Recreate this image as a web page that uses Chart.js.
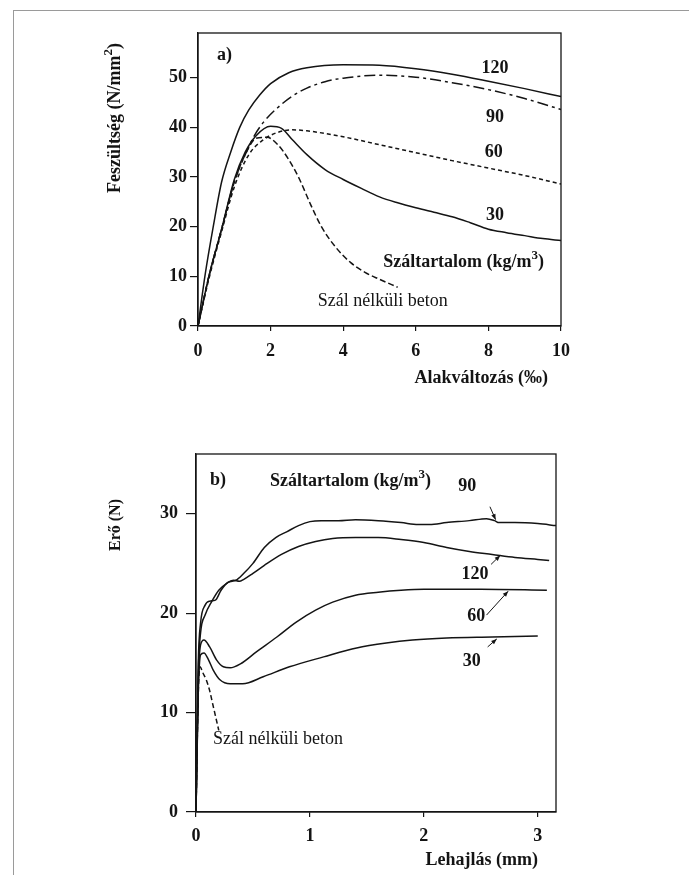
<!DOCTYPE html>
<html><head><meta charset="utf-8">
<script src="https://cdn.jsdelivr.net/npm/chart.js@4.4.0/dist/chart.umd.min.js"></script>
<style>
html,body{margin:0;padding:0;background:#fff;width:689px;height:875px;overflow:hidden}
#frame{position:absolute;left:13px;top:10px;right:0;bottom:0;border-top:1px solid #9a9a9a;border-left:1px solid #9a9a9a}
canvas{position:absolute;left:0;top:0}
</style></head><body>
<div id="frame"></div>
<canvas id="ca" width="689" height="875"></canvas>
<canvas id="cb" width="689" height="875"></canvas>
<script>
// ---------- Chart a) data: Alakváltozás (‰) vs Feszültség (N/mm2) ----------
const aXTicks = [0, 2, 4, 6, 8, 10];
const aYTicks = [0, 10, 20, 30, 40, 50];
const a120X = [0,0.2,0.42,0.65,0.9,1.15,1.4,1.7,2,2.5,3,4,5,6,7,8,9,10];
const a120Y = [0,10.5,20,29,35,40,43.5,46.5,48.8,51,52,52.6,52.5,51.8,50.7,49.3,47.8,46.2];
const a90X = [0,0.3,0.65,1,1.3,1.55,1.8,2.2,2.6,3,3.5,4,5,6,7,8,9,10];
const a90Y = [0,10,19.5,29,34.5,38.3,41,44,46.3,47.9,49.2,49.9,50.5,50.1,49,47.6,45.8,43.6];
const a60X = [0,0.3,0.65,1,1.4,1.8,2.2,2.6,3,4,5,6,7,8,9,10];
const a60Y = [0,9.5,19,28,34.5,37.5,39,39.5,39.3,38.1,36.5,34.9,33.3,31.8,30.3,28.6];
const a30X = [0,0.3,0.65,1,1.3,1.6,2,2.3,2.6,3,3.5,4,4.5,5,5.5,6,6.5,7,7.5,8,8.5,9,9.5,10];
const a30Y = [0,10,19.5,29.5,35,38.3,40.2,39.8,37.5,34.5,31.5,29.5,27.7,26,24.8,23.8,22.9,22,20.8,19.5,18.8,18.2,17.6,17.2];
const a0X = [0,0.3,0.65,1,1.3,1.6,1.9,2.2,2.5,2.8,3.1,3.4,3.8,4.2,4.6,5,5.5];
const a0Y = [0,10,19.5,29,34.5,37.8,38,36.5,33.5,29.5,24.5,20,15.8,12.8,10.8,9.4,7.8];

// ---------- Chart b) data: Lehajlás (mm) vs Erő (N) ----------
const bXTicks = [0, 1, 2, 3];
const bYTicks = [0, 10, 20, 30];
const b90X = [0,0.02,0.04,0.08,0.12,0.17,0.22,0.28,0.35,0.42,0.5,0.6,0.7,0.8,0.9,1.0,1.1,1.25,1.4,1.6,1.8,1.95,2.05,2.2,2.4,2.55,2.62,2.66,2.8,3.0,3.16];
const b90Y = [0,15,19,20.8,21.2,21.3,22.3,23.1,23.3,24,25,26.6,27.6,28.2,28.8,29.2,29.3,29.3,29.4,29.3,29.1,28.9,28.9,29.1,29.3,29.5,29.3,29.1,29.1,29.0,28.8];
const b120X = [0,0.02,0.04,0.08,0.14,0.2,0.27,0.33,0.38,0.42,0.5,0.6,0.75,0.9,1.05,1.2,1.4,1.6,1.8,2.0,2.2,2.4,2.6,2.8,3.0,3.1];
const b120Y = [0,14,18,19.8,21.2,22.3,23,23.3,23.2,23.4,24,24.8,25.9,26.7,27.2,27.5,27.6,27.6,27.4,27.1,26.6,26.2,25.9,25.6,25.4,25.3];
const b60X = [0,0.02,0.04,0.07,0.12,0.18,0.24,0.3,0.39,0.53,0.71,0.88,1.05,1.2,1.4,1.6,1.8,2.0,2.5,3.08];
const b60Y = [0,13,16.8,17.3,16.6,15.3,14.6,14.5,14.9,16.1,17.6,19.1,20.3,21.1,21.8,22.1,22.3,22.4,22.4,22.3];
const b30X = [0,0.02,0.04,0.07,0.11,0.15,0.21,0.3,0.41,0.59,0.82,1.12,1.41,1.67,1.9,2.2,2.6,3.0];
const b30Y = [0,12,15.8,16,15.3,14.3,13.3,12.9,12.9,13.6,14.6,15.6,16.5,17,17.3,17.5,17.6,17.7];
const b0X = [0,0.02,0.035,0.06,0.09,0.12,0.14,0.16,0.18,0.2];
const b0Y = [0,12,14.6,14,13.3,12.2,11.2,10.2,9.2,8.2];

// ---------- helpers ----------
const SERIF = '"Liberation Serif", "Times New Roman", serif';
const INK = '#141414';
function pts(xs, ys) { return xs.map((v, i) => ({ x: v, y: ys[i] })); }

function drawRich(ctx, parts, x, y, align, size, weight) {
  const fN = `${weight} ${size}px ${SERIF}`;
  const fS = `${weight} ${Math.round(size * 0.72)}px ${SERIF}`;
  let w = 0;
  parts.forEach(p => { ctx.font = p[1] ? fS : fN; w += ctx.measureText(p[0]).width; });
  let sx = align === 'left' ? x : (align === 'right' ? x - w : x - w / 2);
  ctx.textAlign = 'left';
  ctx.textBaseline = 'middle';
  parts.forEach(p => {
    ctx.font = p[1] ? fS : fN;
    ctx.fillText(p[0], sx, p[1] ? y - size * 0.33 : y);
    sx += ctx.measureText(p[0]).width;
  });
}

const notesPlugin = {
  id: 'notes',
  afterDatasetsDraw(chart, args, opts) {
    const { ctx, chartArea: ca } = chart;
    const xs = chart.scales.x, ys = chart.scales.y;
    ctx.save();
    ctx.strokeStyle = INK;
    ctx.lineWidth = 1.3;
    ctx.strokeRect(ca.left, ca.top, ca.right - ca.left, ca.bottom - ca.top);
    ctx.fillStyle = INK;
    (opts.texts || []).forEach(t => {
      drawRich(ctx, t.parts, xs.getPixelForValue(t.x), ys.getPixelForValue(t.y), t.align || 'center', t.size || 18, t.weight || 'bold');
    });
    (opts.arrows || []).forEach(a => {
      const x1 = xs.getPixelForValue(a[0]), y1 = ys.getPixelForValue(a[1]);
      const x2 = xs.getPixelForValue(a[2]), y2 = ys.getPixelForValue(a[3]);
      ctx.lineWidth = 1;
      ctx.beginPath(); ctx.moveTo(x1, y1); ctx.lineTo(x2, y2); ctx.stroke();
      const ang = Math.atan2(y2 - y1, x2 - x1), L = 6, Wd = 0.38;
      ctx.beginPath();
      ctx.moveTo(x2, y2);
      ctx.lineTo(x2 - L * Math.cos(ang - Wd), y2 - L * Math.sin(ang - Wd));
      ctx.lineTo(x2 - L * Math.cos(ang + Wd), y2 - L * Math.sin(ang + Wd));
      ctx.closePath(); ctx.fill();
    });
    if (opts.yTitle) {
      const t = opts.yTitle;
      ctx.save();
      ctx.translate(t.cx, t.cy);
      ctx.rotate(-Math.PI / 2);
      drawRich(ctx, t.parts, 0, 0, 'center', t.size, 'bold');
      ctx.restore();
    }
    if (opts.xTitle) {
      const t = opts.xTitle;
      drawRich(ctx, t.parts, t.right, t.cy, 'right', t.size, 'bold');
    }
    ctx.restore();
  }
};

function line(data, dash, w) {
  return { data, borderColor: INK, borderWidth: w || 1.5, borderDash: dash || [],
    pointRadius: 0, fill: false, cubicInterpolationMode: 'monotone' };
}

function axis(min, max, tickVals, fixedSize, tickLen, pad, isX) {
  return {
    type: 'linear', min, max,
    afterBuildTicks: s => { s.ticks = tickVals.map(v => ({ value: v })); },
    afterFit: s => { if (isX) s.height = fixedSize; else s.width = fixedSize; },
    grid: { display: true, drawOnChartArea: false, drawTicks: true, tickLength: tickLen, color: INK, lineWidth: 1.2 },
    border: { display: true, color: INK, width: 1.3 },
    ticks: { color: INK, padding: pad, maxRotation: 0, autoSkip: false,
      font: { family: SERIF, size: 18, weight: 'bold' } }
  };
}

Chart.defaults.animation = false;

new Chart(document.getElementById('ca'), {
  type: 'line',
  data: { datasets: [
    line(pts(a120X, a120Y)),
    line(pts(a90X, a90Y), [11, 4, 3, 4]),
    line(pts(a60X, a60Y), [4, 3]),
    line(pts(a30X, a30Y)),
    line(pts(a0X, a0Y), [6, 3])
  ] },
  options: {
    responsive: false, animation: false, events: [],
    layout: { padding: { left: 0, top: 33, right: 128, bottom: 509 } },
    scales: {
      x: axis(0, 10, aXTicks, 40, 5, 10, true),
      y: axis(0, 59, aYTicks, 198, 8, 3, false)
    },
    plugins: {
      legend: { display: false }, tooltip: { enabled: false },
      notes: {
        texts: [
          { parts: [['a)']], x: 0.52, y: 54.6, align: 'left' },
          { parts: [['120']], x: 8.18, y: 51.9 },
          { parts: [['90']], x: 8.18, y: 42.1 },
          { parts: [['60']], x: 8.15, y: 34.9 },
          { parts: [['30']], x: 8.18, y: 22.3 },
          { parts: [['Száltartalom (kg/m'], ['3', true], [')']], x: 5.1, y: 12.9, align: 'left' },
          { parts: [['Szál nélküli beton']], x: 3.3, y: 4.9, align: 'left', weight: 'normal' }
        ],
        yTitle: { parts: [['Feszültség (N/mm'], ['2', true], [')']], cx: 115, cy: 118, size: 18 },
        xTitle: { parts: [['Alakváltozás (‰)']], right: 548, cy: 378, size: 18 }
      }
    }
  },
  plugins: [notesPlugin]
});

new Chart(document.getElementById('cb'), {
  type: 'line',
  data: { datasets: [
    line(pts(b90X, b90Y)),
    line(pts(b120X, b120Y)),
    line(pts(b60X, b60Y)),
    line(pts(b30X, b30Y)),
    line(pts(b0X, b0Y), [5, 3])
  ] },
  options: {
    responsive: false, animation: false, events: [],
    layout: { padding: { left: 0, top: 454, right: 133, bottom: 0 } },
    scales: {
      x: axis(0, 3.16, bXTicks, 63, 5, 9, true),
      y: axis(0, 36, bYTicks, 196, 10, 8, false)
    },
    plugins: {
      legend: { display: false }, tooltip: { enabled: false },
      notes: {
        texts: [
          { parts: [['b)']], x: 0.123, y: 33.4, align: 'left' },
          { parts: [['Száltartalom (kg/m'], ['3', true], [')']], x: 0.65, y: 33.3, align: 'left' },
          { parts: [['90']], x: 2.38, y: 32.7 },
          { parts: [['120']], x: 2.45, y: 23.9 },
          { parts: [['60']], x: 2.46, y: 19.7 },
          { parts: [['30']], x: 2.42, y: 15.1 },
          { parts: [['Szál nélküli beton']], x: 0.15, y: 7.3, align: 'left', weight: 'normal' }
        ],
        arrows: [
          [2.58, 30.7, 2.63, 29.4],
          [2.59, 24.9, 2.67, 25.8],
          [2.55, 19.8, 2.74, 22.2],
          [2.56, 16.6, 2.64, 17.4]
        ],
        yTitle: { parts: [['Erő (N)']], cx: 116, cy: 525, size: 16 },
        xTitle: { parts: [['Lehajlás (mm)']], right: 538, cy: 860, size: 18 }
      }
    }
  },
  plugins: [notesPlugin]
});
</script></body></html>
